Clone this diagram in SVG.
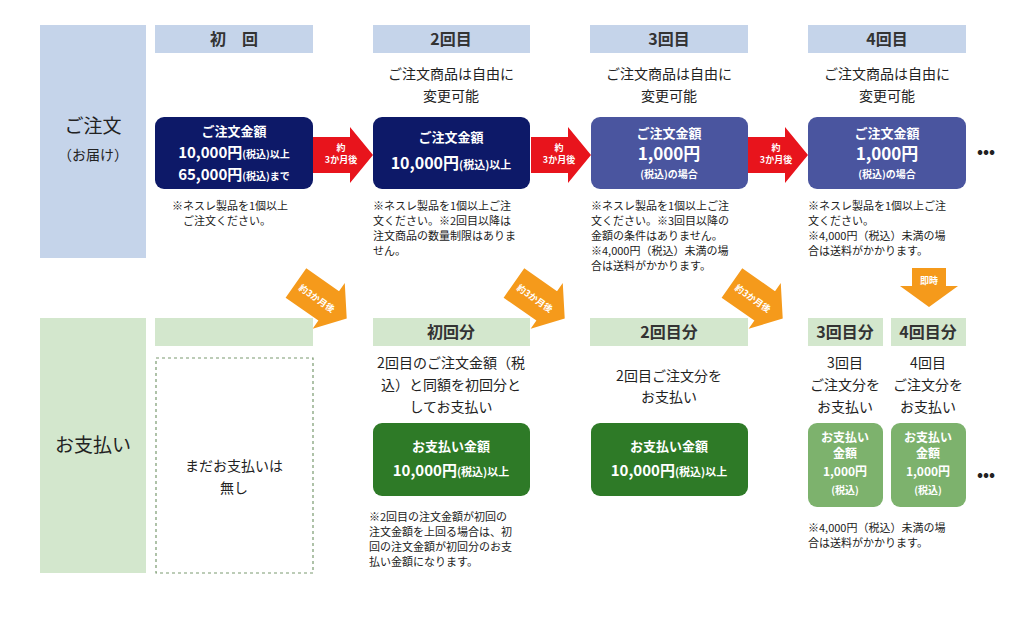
<svg xmlns="http://www.w3.org/2000/svg" width="1024" height="623" viewBox="0 0 1024 623">
<style>
text{font-family:"Noto Sans CJK JP","Liberation Sans",sans-serif;fill:#222}
.hd{font-size:16px;font-weight:bold;fill:#333;text-anchor:middle}
.t{font-size:14px;text-anchor:middle}
.n{font-size:11px}
.w{fill:#fff;font-weight:bold;text-anchor:middle}
.side{font-size:19px;fill:#222;text-anchor:middle}
</style>
<defs>
<g id="redarrow"><polygon points="0,10 37,10 37,0 60,28 37,56 37,46 0,46" fill="#e8141c"/></g>
<g id="orarrow"><polygon points="0,10 40,10 40,0 62,28 40,56 40,46 0,46" fill="#f59a1b"/></g>
</defs>
<rect width="1024" height="623" fill="#fff"/>
<g id="side-order"><rect x="40" y="25" width="106" height="233" fill="#c5d4ea"/><text class="side" x="93" y="133">ご注文</text><text x="93" y="160" class="t">（お届け）</text></g>
<g id="side-pay"><rect x="40" y="318" width="106" height="255" fill="#d3e7cd"/><text class="side" x="93" y="452">お支払い</text></g>
<g id="headers">
<rect x="155" y="25" width="158" height="28" fill="#c5d4ea"/><text class="hd" x="234" y="45">初　回</text>
<rect x="373" y="25" width="157" height="28" fill="#c5d4ea"/><text class="hd" x="451" y="45">2回目</text>
<rect x="590" y="25" width="158" height="28" fill="#c5d4ea"/><text class="hd" x="669" y="45">3回目</text>
<rect x="808" y="25" width="158" height="28" fill="#c5d4ea"/><text class="hd" x="887" y="45">4回目</text>
</g>
<g id="free-text">
<text class="t" x="451" y="79">ご注文商品は自由に</text><text class="t" x="451" y="101">変更可能</text>
<text class="t" x="669" y="79">ご注文商品は自由に</text><text class="t" x="669" y="101">変更可能</text>
<text class="t" x="887" y="79">ご注文商品は自由に</text><text class="t" x="887" y="101">変更可能</text>
</g>
<g id="order1"><rect x="155" y="117" width="158" height="72" rx="9" fill="#0d1968"/>
<text class="w" x="234" y="136" font-size="13">ご注文金額</text>
<text class="w" x="234" y="158" font-size="15">10,000円<tspan font-size="10">(税込)以上</tspan></text>
<text class="w" x="234" y="180" font-size="15">65,000円<tspan font-size="10">(税込)まで</tspan></text></g>
<g id="order2"><rect x="373" y="117" width="157" height="72" rx="9" fill="#0d1968"/>
<text class="w" x="451" y="142" font-size="13">ご注文金額</text>
<text class="w" x="451" y="169" font-size="16">10,000円<tspan font-size="11">(税込)以上</tspan></text></g>
<g id="order3"><rect x="591" y="117" width="157" height="72" rx="9" fill="#4a559f"/>
<text class="w" x="669" y="138" font-size="13">ご注文金額</text>
<text class="w" x="669" y="160" font-size="17">1,000円</text>
<text class="w" x="669" y="178" font-size="10">(税込)の場合</text></g>
<g id="order4"><rect x="808" y="117" width="158" height="72" rx="9" fill="#4a559f"/>
<text class="w" x="887" y="138" font-size="13">ご注文金額</text>
<text class="w" x="887" y="160" font-size="17">1,000円</text>
<text class="w" x="887" y="178" font-size="10">(税込)の場合</text></g>
<text x="986" y="157" font-size="16" font-weight="bold" fill="#2a3580" text-anchor="middle">•••</text>
<g id="notes-order" class="n">
<text class="n" x="172" y="210">※ネスレ製品を1個以上</text><text class="n" x="183" y="225">ご注文ください。</text>
<text class="n" x="373" y="210">※ネスレ製品を1個以上ご注</text><text class="n" x="373" y="225">文ください。※2回目以降は</text><text class="n" x="373" y="240">注文商品の数量制限はありま</text><text class="n" x="373" y="255">せん。</text>
<text class="n" x="591" y="210">※ネスレ製品を1個以上ご注</text><text class="n" x="591" y="225">文ください。※3回目以降の</text><text class="n" x="591" y="240">金額の条件はありません。</text><text class="n" x="591" y="255">※4,000円（税込）未満の場</text><text class="n" x="591" y="270">合は送料がかかります。</text>
<text class="n" x="808" y="210">※ネスレ製品を1個以上ご注</text><text class="n" x="808" y="225">文ください。</text><text class="n" x="808" y="240">※4,000円（税込）未満の場</text><text class="n" x="808" y="255">合は送料がかかります。</text>
</g>
<g id="connectors">
<g transform="translate(313,127)"><use href="#redarrow"/><text class="w" x="28" y="24" font-size="9">約</text><text class="w" x="28" y="36" font-size="9">3か月後</text></g>
<g transform="translate(531,127)"><use href="#redarrow"/><text class="w" x="28" y="24" font-size="9">約</text><text class="w" x="28" y="36" font-size="9">3か月後</text></g>
<g transform="translate(748,127)"><use href="#redarrow"/><text class="w" x="28" y="24" font-size="9">約</text><text class="w" x="28" y="36" font-size="9">3か月後</text></g>
<g transform="translate(312,260) rotate(35)"><use href="#orarrow"/><text class="w" x="26" y="32" font-size="9">約3か月後</text></g>
<g transform="translate(530,260) rotate(35)"><use href="#orarrow"/><text class="w" x="26" y="32" font-size="9">約3か月後</text></g>
<g transform="translate(748,260) rotate(35)"><use href="#orarrow"/><text class="w" x="26" y="32" font-size="9">約3か月後</text></g>
<polygon points="912,268 946,268 946,286 958,286 929,307 900,286 912,286" fill="#f59a1b"/><text class="w" x="929" y="284" font-size="9">即時</text>
</g>
<g id="pay-headers">
<rect x="155" y="318" width="158" height="28" fill="#d3e7cd"/>
<rect x="373" y="318" width="157" height="28" fill="#d3e7cd"/><text class="hd" x="451" y="338">初回分</text>
<rect x="590" y="318" width="158" height="28" fill="#d3e7cd"/><text class="hd" x="669" y="338">2回目分</text>
<rect x="808" y="318" width="75" height="28" fill="#d3e7cd"/><text class="hd" x="845" y="338" font-size="15">3回目分</text>
<rect x="891" y="318" width="75" height="28" fill="#d3e7cd"/><text class="hd" x="928" y="338" font-size="15">4回目分</text>
</g>
<g id="pay1"><rect x="156" y="358" width="157" height="215" fill="none" stroke="#7a9a70" stroke-width="1.2" stroke-dasharray="3,3"/>
<text class="t" x="234" y="471">まだお支払いは</text><text class="t" x="234" y="493">無し</text></g>
<g id="pay-text">
<text class="t" x="451" y="368" font-size="13">2回目のご注文金額（税</text><text class="t" x="451" y="390" font-size="13">込）と同額を初回分と</text><text class="t" x="451" y="412" font-size="13">してお支払い</text>
<text class="t" x="669" y="381" font-size="13">2回目ご注文分を</text><text class="t" x="669" y="402" font-size="13">お支払い</text>
<text class="t" x="845" y="368" font-size="13">3回目</text><text class="t" x="845" y="390" font-size="13">ご注文分を</text><text class="t" x="845" y="412" font-size="13">お支払い</text>
<text class="t" x="928" y="368" font-size="13">4回目</text><text class="t" x="928" y="390" font-size="13">ご注文分を</text><text class="t" x="928" y="412" font-size="13">お支払い</text>
</g>
<g id="pay2"><rect x="373" y="423" width="157" height="73" rx="9" fill="#2e7a27"/>
<text class="w" x="451" y="451" font-size="13">お支払い金額</text><text class="w" x="451" y="476" font-size="15">10,000円<tspan font-size="11">(税込)以上</tspan></text></g>
<g id="pay3"><rect x="591" y="423" width="157" height="73" rx="9" fill="#2e7a27"/>
<text class="w" x="669" y="451" font-size="13">お支払い金額</text><text class="w" x="669" y="476" font-size="15">10,000円<tspan font-size="11">(税込)以上</tspan></text></g>
<g id="pay4"><rect x="808" y="423" width="75" height="84" rx="9" fill="#7db26d"/>
<text class="w" x="845" y="442" font-size="12">お支払い</text><text class="w" x="845" y="458" font-size="12">金額</text><text class="w" x="845" y="476" font-size="12">1,000円</text><text class="w" x="845" y="494" font-size="10">(税込)</text></g>
<g id="pay5"><rect x="891" y="423" width="75" height="84" rx="9" fill="#7db26d"/>
<text class="w" x="928" y="442" font-size="12">お支払い</text><text class="w" x="928" y="458" font-size="12">金額</text><text class="w" x="928" y="476" font-size="12">1,000円</text><text class="w" x="928" y="494" font-size="10">(税込)</text></g>
<text x="986" y="480" font-size="16" font-weight="bold" fill="#2e7a27" text-anchor="middle">•••</text>
<g id="notes-pay">
<text class="n" x="369" y="521">※2回目の注文金額が初回の</text><text class="n" x="369" y="536">注文金額を上回る場合は、初</text><text class="n" x="369" y="551">回の注文金額が初回分のお支</text><text class="n" x="369" y="566">払い金額になります。</text>
<text class="n" x="808" y="532">※4,000円（税込）未満の場</text><text class="n" x="808" y="547">合は送料がかかります。</text>
</g>
</svg>
